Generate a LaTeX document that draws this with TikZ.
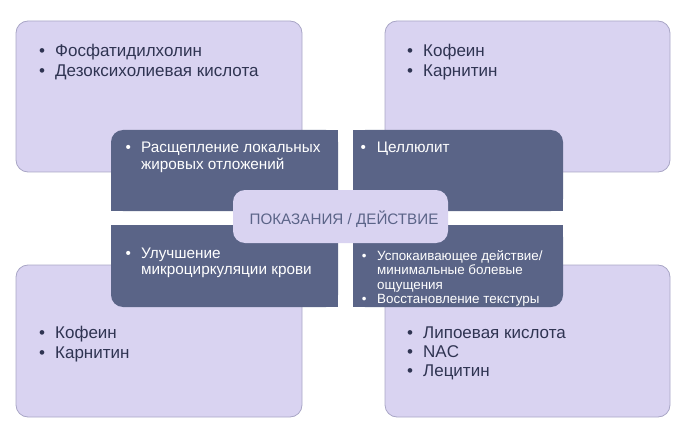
\documentclass[tikz,border=0pt]{standalone}
\usepackage{fontspec}
\setmainfont{Liberation Sans}
\definecolor{lightfill}{HTML}{D9D3F1}
\definecolor{lightline}{HTML}{A9A6C6}
\definecolor{darkfill}{HTML}{5A6487}
\definecolor{lighttext}{HTML}{2F3452}
\definecolor{centertext}{HTML}{5B6488}
\newcommand{\blist}[4]{{\fontsize{#1}{#2}\selectfont\begin{tabular}[t]{@{}l@{\hspace{#3}}l@{}}#4\end{tabular}}}
\tikzset{
  lightbox/.style={fill=lightfill, draw=lightline, line width=0.8pt, rounded corners=12pt},
  darkbox/.style={fill=darkfill},
  centerbox/.style={fill=lightfill, rounded corners=12pt},
  lighttxt/.style={anchor=base west, inner sep=0pt, text=lighttext},
  darktxt/.style={anchor=base west, inner sep=0pt, text=white},
}
\begin{document}
\begin{tikzpicture}[x=1pt,y=-1pt]
\useasboundingbox (0,0) rectangle (699,433);
% light boxes
\draw[lightbox] (16,21) rectangle (302,172);
\draw[lightbox] (385,21) rectangle (670,172);
\draw[lightbox] (16,265) rectangle (302,417);
\draw[lightbox] (385,265) rectangle (670,417);
% dark boxes, one rounded outer corner each
\fill[darkbox, rounded corners=12pt] (111,130) rectangle (338,211);
\fill[darkbox] (131,130) rectangle (338,211);
\fill[darkbox] (111,150) rectangle (338,211);
\fill[darkbox, rounded corners=12pt] (353,130) rectangle (563,211);
\fill[darkbox] (353,130) rectangle (543,211);
\fill[darkbox] (353,150) rectangle (563,211);
\fill[darkbox, rounded corners=12pt] (111,225) rectangle (338,307);
\fill[darkbox] (131,225) rectangle (338,307);
\fill[darkbox] (111,225) rectangle (338,287);
\fill[darkbox, rounded corners=12pt] (353,225) rectangle (563,307);
\fill[darkbox] (353,225) rectangle (543,307);
\fill[darkbox] (353,225) rectangle (563,287);
% center
\fill[centerbox] (233,190) rectangle (448,243);
\node[anchor=base, inner sep=0pt, text=centertext, font=\fontsize{15.2}{18}\selectfont] (center) at (344,224) {ПОКАЗАНИЯ / ДЕЙСТВИЕ};
% light texts
\node[lighttxt] (tl) at (39,57) {\blist{17}{20}{10pt}{• & Фосфатидилхолин\\ • & Дезоксихолиевая кислота}};
\node[lighttxt] (tr) at (407,57) {\blist{17}{20}{10pt}{• & Кофеин\\ • & Карнитин}};
\node[lighttxt] (bl) at (39,338) {\blist{17}{20}{10pt}{• & Кофеин\\ • & Карнитин}};
\node[lighttxt] (br) at (407,338) {\blist{17}{19}{10pt}{• & Липоевая кислота\\ • & NAC\\ • & Лецитин}};
% dark texts
\node[darktxt] (dtl) at (125.3,153) {\blist{15.3}{17}{10.3pt}{• & Расщепление локальных\\ & жировых отложений}};
\node[darktxt] (dtr) at (360.3,153) {\blist{15.3}{17}{11pt}{• & Целлюлит}};
\node[darktxt] (dbl) at (125.3,258) {\blist{15.3}{16.5}{10.3pt}{• & Улучшение\\ & микроциркуляции крови}};
\node[darktxt] (dbr) at (361.6,260) {\blist{13.4}{14.5}{10.7pt}{• & Успокаивающее действие/\\ & минимальные болевые\\ & ощущения\\ • & Восстановление текстуры}};
\end{tikzpicture}
\end{document}
